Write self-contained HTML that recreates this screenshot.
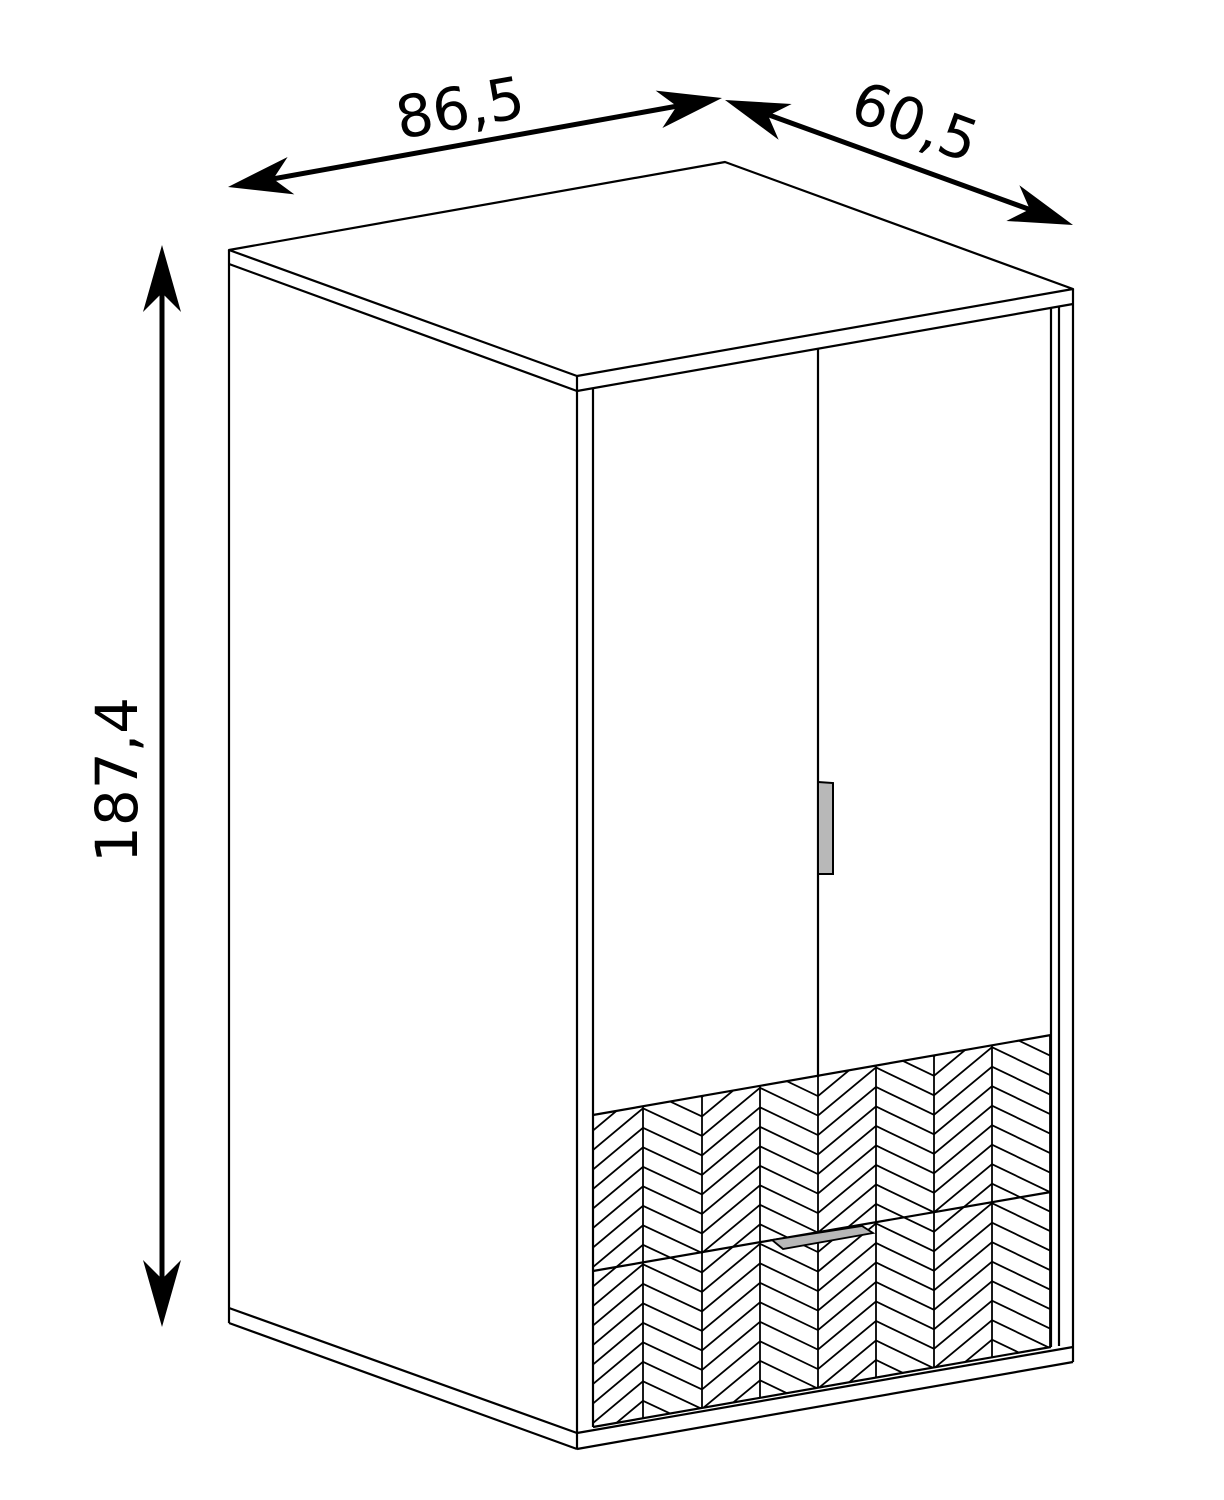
<!DOCTYPE html>
<html><head><meta charset="utf-8"><style>
html,body{margin:0;padding:0;background:#fff;overflow:hidden;width:1224px;height:1500px;}
svg{display:block;}
text{font-family:"DejaVu Sans","Liberation Sans",sans-serif;fill:#000;}
</style></head><body>
<svg id="s" width="1224" height="1500" viewBox="0 0 1224 1500" xmlns="http://www.w3.org/2000/svg">
<defs>
<clipPath id="dr"><polygon points="593,1115 1051,1035 1051,1347 593,1427"/></clipPath>
</defs>
<g fill="none" stroke="#000" stroke-width="2.2" stroke-linejoin="round">
<polygon points="229,250 725,162 1073,289 577,376"/>
<line x1="229" y1="250" x2="229" y2="1323"/>
<line x1="229" y1="264" x2="577" y2="391"/>
<line x1="577" y1="376" x2="577" y2="1449"/>
<line x1="1073" y1="289" x2="1073" y2="1362"/>
<line x1="577" y1="391" x2="1073" y2="304"/>
<line x1="229" y1="1308" x2="577" y2="1433"/>
<line x1="229" y1="1323" x2="577" y2="1449"/>
<line x1="577" y1="1433" x2="1073" y2="1347"/>
<line x1="577" y1="1449" x2="1073" y2="1362"/>
<line x1="593" y1="389" x2="593" y2="1427"/>
<line x1="1051" y1="308" x2="1051" y2="1347"/>
<line x1="1059" y1="307" x2="1059" y2="1346"/>
<line x1="818" y1="349" x2="818" y2="1075"/>
</g>
<g id="hatch" clip-path="url(#dr)" fill="none" stroke="#000" stroke-width="1.8"></g>
<g fill="none" stroke="#000" stroke-width="2.2">
<line x1="593" y1="1115" x2="1051" y2="1035"/>
<line x1="593" y1="1427" x2="1051" y2="1347"/>
<line x1="593" y1="1271" x2="1051" y2="1192"/>
</g>
<polygon points="772,1240 862,1226 873,1233 783,1249" fill="#b8b8b8" stroke="#000" stroke-width="1.8"/>
<polygon points="818,782 833,783 833,874 818,874" fill="#b8b8b8" stroke="#000" stroke-width="2"/>
<g stroke="#000" stroke-width="5" fill="none">
<line x1="250" y1="183" x2="700" y2="102"/>
<line x1="747" y1="107" x2="1053" y2="218"/>
<line x1="162" y1="270" x2="162" y2="1305"/>
</g>
<g fill="#000">
<g transform="translate(722,98) rotate(-10.2)"><polygon points="0,0 -64,-19 -46,0 -64,19"/></g>
<g transform="translate(228,187) rotate(169.8)"><polygon points="0,0 -64,-19 -46,0 -64,19"/></g>
<g transform="translate(725,100) rotate(200)"><polygon points="0,0 -64,-19 -46,0 -64,19"/></g>
<g transform="translate(1073,225) rotate(20)"><polygon points="0,0 -64,-19 -46,0 -64,19"/></g>
<g transform="translate(162,245) rotate(-90)"><polygon points="0,0 -67,-19 -48,0 -67,19"/></g>
<g transform="translate(162,1327) rotate(90)"><polygon points="0,0 -67,-19 -48,0 -67,19"/></g>
</g>
<text x="460" y="128" font-size="58" text-anchor="middle" transform="rotate(-10 460 108)">86,5</text>
<text x="915" y="142" font-size="58" text-anchor="middle" transform="rotate(20 915 122)">60,5</text>
<text x="0" y="20" font-size="58" text-anchor="middle" transform="translate(117,780) rotate(-90)">187,4</text>
</svg>
<script>
(function(){
var g=document.getElementById('hatch');
var xs=[593,643,702,760,818,876,934,992,1050];
var s='';
for(var k=-14;k<30;k++){
  var y0=1000+k*19.5;
  var pts=[];
  for(var i=0;i<xs.length;i++){
    var off;
    if(i==0) off=33;
    else off=(i%2==1)?0:38;
    pts.push(xs[i]+','+(y0+off-0.175*(xs[i]-593)));
  }
  s+='<polyline points="'+pts.join(' ')+'"/>';
}
for(var i=1;i<xs.length;i++){
  s+='<line x1="'+xs[i]+'" y1="1000" x2="'+xs[i]+'" y2="1440"/>';
}
g.innerHTML=s;
})();
</script>
</body></html>
